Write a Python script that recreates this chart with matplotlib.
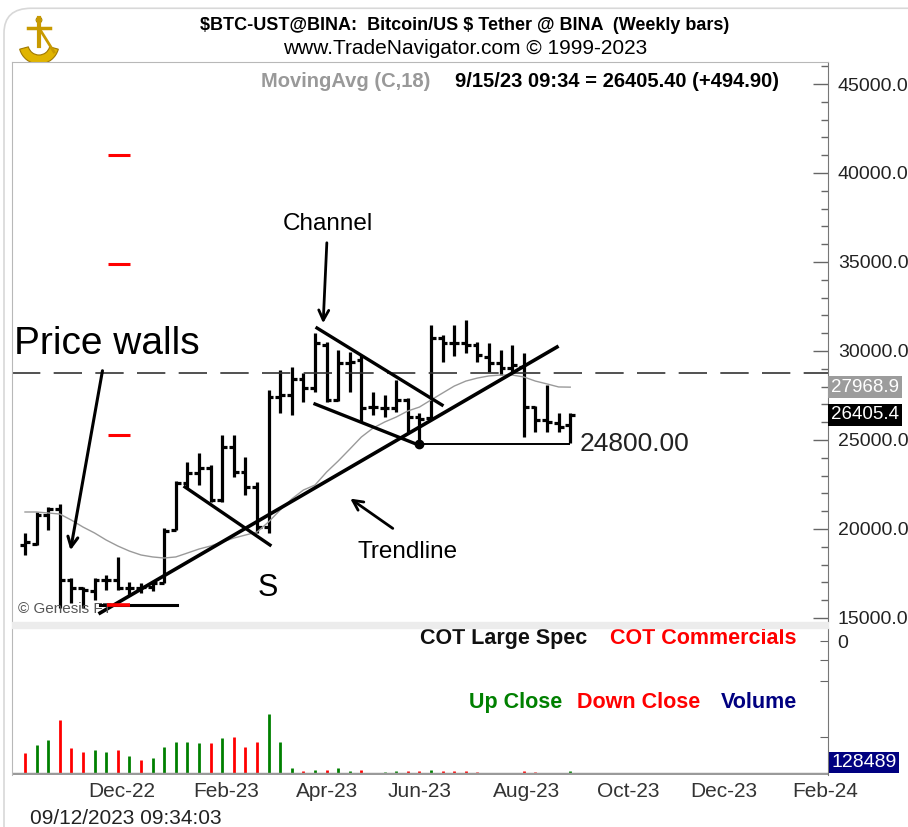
import numpy as np
import matplotlib
matplotlib.use('Agg')
import matplotlib.pyplot as plt
from matplotlib.patches import Rectangle, FancyBboxPatch, Wedge, Circle

# weekly bars (week ending Friday), index 0 = week of 21 Oct 2022
opens = [19100, 19150, 20800, 21150, 17130, 16690, 16500, 17135, 17135, 16690,
         16700, 16750, 16970, 19950, 22600, 23150, 23400, 21630, 24600, 23200,
         22360, 20110, 27420, 27500, 28450, 27920, 30340, 27250, 29330, 29500,
         26850, 26800, 26800, 27250, 26290, 26240, 30730, 30450, 30450, 30340,
         29660, 29330, 29045, 29100, 26850, 26120, 25950, 25840]
highs = [19780, 20950, 21240, 21400, 17250, 16740, 17250, 17420, 18430, 17000,
         16950, 17100, 20060, 22700, 23760, 24270, 23600, 25280, 25280, 24045,
         22640, 27800, 28930, 29100, 28760, 31000, 30500, 30060, 29940, 29780,
         27700, 27530, 28370, 27360, 26520, 31460, 30900, 31450, 31740, 30500,
         30450, 30060, 30340, 29890, 26900, 28090, 26520, 26520]
lows = [18540, 19100, 19950, 15560, 15840, 15560, 16010, 16570, 16570, 16250,
        16400, 16500, 16970, 19944, 22300, 22470, 21520, 21520, 22920, 21910,
        19775, 19775, 26520, 26400, 27130, 27700, 27130, 27200, 27700, 26010,
        26400, 26290, 26570, 25450, 24800, 26240, 29380, 29700, 29890, 29380,
        28820, 28650, 28760, 25170, 25450, 25450, 25450, 24850]
closes = [19250, 20790, 21150, 17130, 16690, 16600, 17135, 17135, 16690, 16700,
          16750, 16950, 19900, 22600, 23150, 23400, 21630, 24600, 23200, 22360,
          20110, 27420, 27500, 28400, 27920, 30450, 27250, 29330, 29380, 26800,
          26850, 26800, 27250, 26290, 26200, 30730, 30450, 30450, 30340, 29775,
          29330, 29045, 29210, 26850, 26120, 26000, 25730, 26405.40]
ma18 = [20955, 20955, 20900, 20840, 20500, 20110, 19775, 19380, 19045, 18760,
        18540, 18430, 18370, 18430, 18650, 18875, 19045, 19270, 19490, 19660,
        19830, 20400, 21070, 21690, 22190, 22470, 23200, 23820, 24490, 25170,
        25670, 26010, 26290, 26630, 26850, 27250, 27640, 28030, 28310, 28480,
        28600, 28650, 28650, 28540, 28310, 28150, 27980, 27968.93]
volumes = [840000, 1160000, 1360000, 2160000, 1040000, 880000, 960000, 880000,
           960000, 720000, 560000, 640000, 1080000, 1280000, 1280000, 1240000,
           1240000, 1440000, 1480000, 1080000, 1280000, 2400000, 1280000, 240000,
           120000, 160000, 160000, 240000, 120000, 160000, 40000, 80000,
           120000, 120000, 120000, 160000, 120000, 120000, 120000, 80000,
           40000, 40000, 40000, 120000, 80000, 40000, 40000, 128489]
vol_up = [0, 1, 1, 0, 0, 0, 1, 1, 0, 1, 0, 1, 1, 1, 1, 1, 0, 1, 0, 0, 0, 1, 1, 1,
          0, 1, 0, 1, 1, 0, 1, 1, 1, 0, 0, 1, 0, 0, 0, 0, 0, 0, 1, 0, 0, 0, 1, 1]

month_pos = [8.36, 17.33, 26.03, 34.05, 43.28, 51.98, 60.26, 68.97]
month_labels = ['Dec-22', 'Feb-23', 'Apr-23', 'Jun-23', 'Aug-23', 'Oct-23', 'Dec-23', 'Feb-24']
price_ticks = [15000, 20000, 25000, 30000, 35000, 40000, 45000]

# hand drawn annotations (bar index, price)
wall_levels = [41000, 34900, 25300]
dashed_level = 28760
support_level = 24800
trend_x, trend_y = [6.47, 45.86], [15281, 30225]
s_line_x, s_line_y = [13.79, 21.12], [22360, 19100]
chan_up_x, chan_up_y = [25.17, 35.95], [31292, 26966]
chan_lo_x, chan_lo_y = [25.0, 34.0], [27022, 24700]
base_x, base_y = [6.5, 13.1], [15730, 15730]

sans = ['Liberation Sans', 'DejaVu Sans']

W, H = 908, 827
fig = plt.figure(figsize=(W / 100, H / 100), dpi=100)
fig.patch.set_facecolor('white')

# screenshot frame
fig.patches.append(FancyBboxPatch((4 / W, -0.05), 1.2, 1.04, boxstyle='round,pad=0,rounding_size=0.03',
                                  transform=fig.transFigure, fc='none', ec='#d8d8d8', lw=1.2))
fig.patches.append(Rectangle((12 / W, 1 - 628 / H), 816 / W, 6 / H, transform=fig.transFigure,
                             color='#ececec', zorder=0))

# rough gold logo
logo = fig.add_axes([14 / W, 1 - 68 / H, 50 / W, 55 / H])
logo.set_xlim(0, 50)
logo.set_ylim(0, 55)
logo.axis('off')
logo.add_patch(Wedge((25, 24), 20, 195, 345, width=9, fc='#e0b400', ec='#a07800', lw=0.8))
logo.plot([25, 25], [22, 50], color='#c89a00', lw=3)
logo.plot([14, 36], [40, 40], color='#c89a00', lw=2.5)
logo.plot([25, 40], [40, 16], color='#c89a00', lw=2)
logo.add_patch(Circle((25, 48), 3, fc='#e8c000', ec='#a07800', lw=0.6))

ax = fig.add_axes([12 / W, 1 - 622 / H, 816 / W, 560 / H])
axv = fig.add_axes([12 / W, 1 - 775 / H, 816 / W, 147 / H])

x = np.arange(len(closes))

# price bars
ax.vlines(x, lows, highs, color='black', lw=2.3)
ax.hlines(opens, x - 0.42, x, color='black', lw=2.3)
ax.hlines(closes, x, x + 0.42, color='black', lw=2.3)
ax.plot(x, ma18, color='#9a9a9a', lw=1.0)

# annotations
ax.axhline(dashed_level, color='#333333', lw=1.2, dashes=(17, 8))
for lv in wall_levels:
    ax.hlines(lv, 7.16, 9.05, color='red', lw=2.2)
ax.plot(base_x, base_y, color='black', lw=2.2)
ax.hlines(base_y[0], 7.1, 9.05, color='red', lw=2.6, zorder=4)
ax.plot(trend_x, trend_y, color='black', lw=2.6)
ax.plot(s_line_x, s_line_y, color='black', lw=2.4)
ax.plot(chan_up_x, chan_up_y, color='black', lw=2.4)
ax.plot(chan_lo_x, chan_lo_y, color='black', lw=2.4)
ax.hlines(support_level, 34, 47, color='black', lw=1.4)
ax.plot([34], [support_level], 'o', color='black', ms=6)
ax.text(47.84, support_level, '24800.00', fontsize=19, family=sans, color='#222222', va='center')

ax.text(-0.95, 30393, 'Price walls', fontsize=28, family=sans, color='black', va='center')
ax.annotate('', xy=(3.88, 18652), xytext=(6.72, 29045),
            arrowprops=dict(arrowstyle='->', color='black', lw=2.2, mutation_scale=18))
ax.text(26.1, 37135, 'Channel', fontsize=17.5, family=sans, ha='center', va='center')
ax.annotate('', xy=(25.69, 31404), xytext=(26.03, 36236),
            arrowprops=dict(arrowstyle='->', color='black', lw=2.0, mutation_scale=18))
ax.text(33.0, 18708, 'Trendline', fontsize=17.5, family=sans, ha='center', va='center')
ax.annotate('', xy=(27.84, 21798), xytext=(31.9, 19944),
            arrowprops=dict(arrowstyle='->', color='black', lw=2.0, mutation_scale=18))
ax.text(20.95, 16685, 'S', fontsize=22, family=sans, ha='center', va='center')
ax.text(0.007, 0.01, '\u00a9 Genesis FT', transform=ax.transAxes, fontsize=11, family=sans,
        color='#555555', va='bottom')

ax.text(0.305, 0.982, 'MovingAvg (C,18)', transform=ax.transAxes, fontsize=14.5, family=sans,
        weight='bold', color='#999999', va='top')
ax.text(0.543, 0.982, '9/15/23 09:34 = 26405.40 (+494.90)', transform=ax.transAxes, fontsize=14.5,
        family=sans, weight='bold', color='black', va='top')

ax.set_xlim(-1.12, 69.22)
ax.set_ylim(14775, 46236)
ax.yaxis.tick_right()
ax.set_yticks(price_ticks)
ax.set_yticklabels(['%.1f' % p for p in price_ticks], fontsize=14, family=sans, color='#222222')
ax.set_yticks(np.arange(15000, 46001, 1000), minor=True)
ax.tick_params(axis='y', which='major', direction='in', length=11, width=1, color='#666666', pad=7)
ax.tick_params(axis='y', which='minor', direction='in', length=5, width=1, color='#666666')
ax.set_xticks([])
for s in ['left', 'top']:
    ax.spines[s].set_color('#b8b8b8')
ax.spines['bottom'].set_visible(False)
ax.spines['right'].set_color('#777777')

# price tags
yt = ax.get_yaxis_transform()
ax.text(1.004, ma18[-1], '%.1f' % ma18[-1], transform=yt, fontsize=13.5, family=sans, color='white',
        va='center', ha='left', clip_on=False,
        bbox=dict(boxstyle='square,pad=0.15', fc='#9c9c9c', ec='none'))
ax.text(1.004, closes[-1], '%.1f' % closes[-1], transform=yt, fontsize=13.5, family=sans, color='white',
        va='center', ha='left', clip_on=False,
        bbox=dict(boxstyle='square,pad=0.15', fc='black', ec='none'))

# volume panel
vcol = ['#008000' if u else '#ff0000' for u in vol_up]
axv.vlines(x, 0, volumes, colors=vcol, lw=2.0)
axv.axhline(0, color='#9a9a9a', lw=2.5)
axv.set_xlim(-1.12, 69.22)
axv.set_ylim(-30000, 5840000)
axv.yaxis.tick_right()
axv.set_yticks([1480000, 3720000, 4560000, 5320000])
axv.set_yticklabels(['', '', '', '0'], fontsize=14, family=sans, color='#222222')
axv.tick_params(axis='y', direction='in', length=6, color='#666666', pad=7)
axv.set_xticks(month_pos)
axv.set_xticklabels(month_labels, fontsize=15, family=sans, color='#333333')
axv.tick_params(axis='x', length=0, pad=5)
axv.spines['left'].set_color('#b8b8b8')
axv.spines['top'].set_visible(False)
axv.spines['bottom'].set_visible(False)
axv.spines['right'].set_color('#777777')
axv.text(1.004, volumes[-1], '%d' % volumes[-1], transform=axv.get_yaxis_transform(), fontsize=14,
         family=sans, color='white', va='bottom', ha='left', clip_on=False,
         bbox=dict(boxstyle='square,pad=0.12', fc='#000080', ec='none'))

axv.text(0.5, 0.93, 'COT Large Spec', transform=axv.transAxes, fontsize=15.5, family=sans,
         weight='bold', color='#111111', va='center')
axv.text(0.962, 0.93, 'COT Commercials', transform=axv.transAxes, fontsize=15.5, family=sans,
         weight='bold', color='red', va='center', ha='right')
axv.text(0.560, 0.49, 'Up Close', transform=axv.transAxes, fontsize=15.5, family=sans,
         weight='bold', color='#008000', va='center')
axv.text(0.693, 0.49, 'Down Close', transform=axv.transAxes, fontsize=15.5, family=sans,
         weight='bold', color='red', va='center')
axv.text(0.962, 0.49, 'Volume', transform=axv.transAxes, fontsize=15.5, family=sans,
         weight='bold', color='#000080', va='center', ha='right')

# header
fig.text(465 / W, 1 - 25 / H, '\\$BTC-UST@BINA:  Bitcoin/US \\$ Tether @ BINA  (Weekly bars)',
         fontsize=13, family=sans, weight='bold', ha='center', va='center')
fig.text(465 / W, 1 - 49 / H, 'www.TradeNavigator.com \u00a9 1999-2023', fontsize=15, family=sans,
         ha='center', va='center')
fig.text(30 / W, 1 - 818 / H, '09/12/2023 09:34:03', fontsize=15, family=sans, ha='left',
         va='center', color='#222222')

fig.savefig('out.png', dpi=100)
